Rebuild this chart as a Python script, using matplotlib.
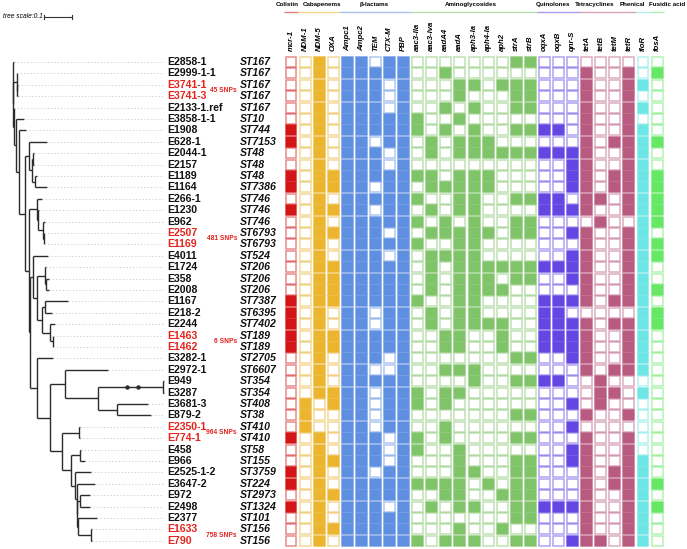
import matplotlib
matplotlib.use("Agg")
import matplotlib.pyplot as plt
from matplotlib.patches import Rectangle
from matplotlib.colors import to_rgba

plt.rcParams['font.family'] = ['Liberation Sans', 'DejaVu Sans']

# ---- data ---------------------------------------------------------------
samples = ["E2858-1", "E2999-1-1", "E3741-1", "E3741-3", "E2133-1.ref", "E3858-1-1",
           "E1908", "E628-1", "E2044-1", "E2157", "E1189", "E1164", "E266-1", "E1230",
           "E962", "E2507", "E1169", "E4011", "E1724", "E358", "E2008", "E1167",
           "E218-2", "E2244", "E1463", "E1462", "E3282-1", "E2972-1", "E949", "E3287",
           "E3681-3", "E879-2", "E2350-1", "E774-1", "E458", "E966", "E2525-1-2",
           "E3647-2", "E972", "E2498", "E2377", "E1633", "E790"]
st_types = ["ST167", "ST167", "ST167", "ST167", "ST167", "ST10", "ST744", "ST7153",
            "ST48", "ST48", "ST48", "ST7386", "ST746", "ST746", "ST746", "ST6793",
            "ST6793", "ST524", "ST206", "ST206", "ST206", "ST7387", "ST6395", "ST7402",
            "ST189", "ST189", "ST2705", "ST6607", "ST354", "ST354", "ST408", "ST38",
            "ST410", "ST410", "ST58", "ST155", "ST3759", "ST224", "ST2973", "ST1324",
            "ST101", "ST156", "ST156"]
snp_pairs = [("E3741-1", "E3741-3", "45 SNPs"), ("E2507", "E1169", "481 SNPs"),
             ("E1463", "E1462", "6 SNPs"), ("E2350-1", "E774-1", "964 SNPs"),
             ("E1633", "E790", "758 SNPs")]

genes = ["mcr-1", "NDM-1", "NDM-5", "OXA", "Ampc1", "Ampc2", "TEM", "CTX-M", "PBP",
         "aac3-IIa", "aac3-Iva", "aadA4", "aadA", "aph3-Ia", "aph4-Ia", "aph2", "strA",
         "strB", "oqxA", "oqxB", "qnr-S", "tetA", "tetB", "tetM", "tetR", "floR", "fosA"]
groups = ["Colistin", "Cabapenems", "β-lactams", "Aminoglycosides", "Quinolones",
          "Tetracyclines", "Phenical", "Fusidic acid"]
group_sizes = [1, 3, 5, 9, 3, 4, 1, 1]
group_colors = ["#d41515", "#ebb530", "#5f8fe0", "#80c46a", "#6446e2", "#b95b80",
                "#6de6e6", "#66e866"]

# 1 = gene present; groups separated by spaces
presence = [
    "0 010 11011 000000011 000 0000 0 0",
    "0 010 11111 001000000 000 1001 0 1",
    "0 010 11101 000110111 000 1001 1 0",
    "0 010 11101 000100011 000 1001 0 0",
    "0 010 11101 001010011 000 1001 1 0",
    "0 010 11111 100100000 000 1001 0 0",
    "1 010 11111 101010011 110 1001 1 0",
    "1 010 11011 010111000 000 1011 1 1",
    "0 010 11101 010111111 111 1001 1 0",
    "0 010 11101 000000000 001 1001 1 0",
    "1 011 11111 110111000 001 1011 1 1",
    "1 011 11011 011111000 001 1011 1 1",
    "0 010 11111 100110011 110 1101 1 1",
    "1 011 11011 010110000 111 1001 1 1",
    "0 010 11111 101010011 000 0100 1 1",
    "0 011 11101 011111011 001 1001 1 0",
    "0 010 11111 100110000 000 1001 1 1",
    "0 010 11101 011110000 001 1001 1 1",
    "0 011 11111 010111111 111 1001 1 0",
    "0 011 11111 010111011 001 1001 1 0",
    "0 011 11111 010111100 000 1001 1 1",
    "1 011 11111 100110000 111 1011 1 0",
    "1 010 11011 010110000 110 0000 1 1",
    "1 010 11011 010111100 111 1011 1 1",
    "1 011 11111 001100100 111 1001 1 0",
    "1 011 11111 001100100 111 1001 1 0",
    "0 010 11101 000000011 001 1001 1 0",
    "0 010 11001 001110000 000 1011 1 0",
    "0 010 11111 000010011 110 0100 0 0",
    "0 011 11011 101100000 000 0110 1 0",
    "0 101 11011 101000000 001 0100 0 0",
    "0 100 11011 000000011 000 1001 0 0",
    "0 100 11011 001000000 001 0000 0 0",
    "1 010 11101 101000011 000 1001 0 0",
    "0 010 11101 100100000 001 1001 0 0",
    "0 011 11101 000100011 001 1001 1 0",
    "1 010 11011 000110011 000 1011 1 0",
    "1 010 11111 111101011 000 1011 1 1",
    "0 011 11111 001100111 000 1001 1 0",
    "1 010 11101 010110011 111 1001 1 1",
    "0 010 11111 000000011 000 1001 1 0",
    "0 011 11111 000100100 000 1001 1 0",
    "0 010 11111 101110011 001 1101 1 0",
]

# tree (newick pieces, branch lengths in substitutions/site)
clade_a = "(E628-1:0.064,((E2044-1:0.0035,E2157:0.0035):0.0035,(E1189:0.006,E1164:0.044):0.011):0.011):0.014"
clade_b = "(E266-1:0.018,(E1230:0.0035,(E962:0.009,(E2507:0.001,E1169:0.001):0.0035):0.016):0.0055):0.0285"
clade_c = ("(E4011:0.0535,((E1724:0.0035,(E358:0.009,E2008:0.009):0.0055):0.0285,"
           "((E1167:0.082,E218-2:0.025):0.011,(E2244:0.018,(E1463:0.002,E1462:0.002):0.011):0.0285):0.018):0.014):0.011")
clade_d1 = ("(E2972-1:0.1535,((((E949:0.0035,E3287:0.0035):0.089):0.039):0.1035,"
            "(E3681-3:0.111,E879-2:0.121):0.068):0.118):0.0535")
clade_d2 = ("((E2350-1:0.0035,E774-1:0.0035):0.061,((E458:0.0035,E966:0.018):0.032,"
            "(E2525-1-2:0.057,(E3647-2:0.064,((E972:0.038,E2498:0.038):0.009,"
            "(E2377:0.068,(E1633:0.0035,E790:0.0035):0.0465):0.002):0.002):0.007):0.014):0.032):0.043")
clade_d = "(E3282-1:0.057,(" + clade_d1 + "," + clade_d2 + "):0.0465):0.025"
newick = ("(E2858-1:0.002,((E2999-1-1:0.002,(E3741-1:0.0015,E3741-3:0.0015):0.001):0.013,"
          "(E2133-1.ref:0.002,(E3858-1-1:0.030,(E1908:0.024,(" + clade_a + ",("
          + clade_b + ",(" + clade_c + "," + clade_d + "):0.0035):0.014):0.020):0.0135):0.006):0.002):0.001);")
red_samples = {a for a, b, _ in snp_pairs} | {b for a, b, _ in snp_pairs}


def parse_newick(s):
    pos = 0

    def node():
        nonlocal pos
        kids = []
        if s[pos] == '(':
            pos += 1
            kids.append(node())
            while s[pos] == ',':
                pos += 1
                kids.append(node())
            pos += 1
        start = pos
        while s[pos] not in ',():;':
            pos += 1
        name = s[start:pos]
        length = 0.0
        if s[pos] == ':':
            pos += 1
            start = pos
            while s[pos] not in ',();':
                pos += 1
            length = float(s[start:pos])
        return {'name': name, 'len': length, 'kids': kids}
    return node()


tree = parse_newick(newick)
row_of = {n: i for i, n in enumerate(samples)}


def place(nd, x0):
    nd['x'] = x0 + nd['len']
    if not nd['kids']:
        nd['y'] = row_of[nd['name']]
        return
    for k in nd['kids']:
        place(k, nd['x'])
    nd['y'] = (nd['kids'][0]['y'] + nd['kids'][-1]['y']) / 2


place(tree, 0.0)

# ---- figure -------------------------------------------------------------
W, H = 687.0, 549.0
row0, dy = 62.0, 11.4          # pixel y of first row, row pitch
col0, dx = 291.0, 14.08        # pixel x of first gene column, column pitch
px_per_unit = 280.0            # tree scale: 0.1 -> 28 px
root_px = 13.0

top_px = row0 - dy / 2
bot_px = row0 + dy * (len(samples) - 1) + dy / 2
bottom = 1 - bot_px / H
height = (bot_px - top_px) / H
ylim = (len(samples) - 0.5, -0.5)


def row_y(px):
    return (px - row0) / dy


fig = plt.figure(figsize=(W / 100, H / 100), dpi=100)
ax_tree = fig.add_axes([0, bottom, 1, height])
ax_tree.set_xlim(-root_px / px_per_unit, (W - root_px) / px_per_unit)
ax_tree.set_ylim(*ylim)
ax_tree.axis('off')

tree_kw = dict(color="#2b2b2b", lw=1.0, solid_capstyle='butt')
leaves = []


def draw(nd):
    kids = nd['kids']
    if not kids:
        leaves.append(nd)
        return
    for k in kids:
        ax_tree.plot([nd['x'], k['x']], [k['y'], k['y']], **tree_kw)
        draw(k)
    if len(kids) > 1:
        ax_tree.plot([nd['x'], nd['x']], [kids[0]['y'], kids[-1]['y']], **tree_kw)
    else:
        ax_tree.plot(nd['x'], nd['y'], 'o', ms=2.2, color="#2b2b2b")


draw(tree)

dot_end = (163 - root_px) / px_per_unit
for lf in leaves:
    if lf['x'] < dot_end:
        ax_tree.plot([lf['x'], dot_end], [lf['y'], lf['y']], color="#c8c8c8",
                     lw=0.6, ls=(0, (1.5, 2.5)))

# scale bar
sb_y = row_y(17)
sb_x0 = (44 - root_px) / px_per_unit
ax_tree.plot([sb_x0, sb_x0 + 0.1], [sb_y, sb_y], color="#333", lw=0.8, clip_on=False)
for xx in (sb_x0, sb_x0 + 0.1):
    ax_tree.plot([xx, xx], [sb_y - 0.15, sb_y + 0.15], color="#333", lw=0.8, clip_on=False)
ax_tree.text(sb_x0 - 0.004, sb_y, "tree scale:0.1", fontsize=4.8, style='italic',
             ha='right', va='center', clip_on=False)

# labels
tr = ax_tree.get_yaxis_transform()
for i, (name, st) in enumerate(zip(samples, st_types)):
    col = "#e5231d" if name in red_samples else "#111111"
    ax_tree.text(167 / W, i, name, transform=tr, fontsize=7.6, fontweight='bold',
                 color=col, ha='left', va='center')
    ax_tree.text(240 / W, i, st, transform=tr, fontsize=7.6, fontweight='bold',
                 style='italic', color="#111111", ha='left', va='center')
for a, b, lab in snp_pairs:
    ax_tree.text(237 / W, (row_of[a] + row_of[b]) / 2, lab, transform=tr, fontsize=4.8,
                 fontweight='bold', color="#e5231d", ha='right', va='center')

# ---- heatmap ------------------------------------------------------------
ax_hm = fig.add_axes([(col0 - dx / 2) / W, bottom, len(genes) * dx / W, height])
ax_hm.set_xlim(-0.5, len(genes) - 0.5)
ax_hm.set_ylim(*ylim)
ax_hm.axis('off')

gene_color = []
for g, n in enumerate(group_sizes):
    gene_color += [group_colors[g]] * n

cw, ch = 0.78, 0.88
for i, row in enumerate(presence):
    bits = row.replace(" ", "")
    for j, b in enumerate(bits):
        c = gene_color[j]
        if b == "1":
            fc, ec = c, to_rgba(c, 0.85)
        else:
            fc, ec = "white", to_rgba(c, 0.5)
        ax_hm.add_patch(Rectangle((j - cw / 2, i - ch / 2), cw, ch, facecolor=fc,
                                  edgecolor=ec, lw=1.1))

for j, g in enumerate(genes):
    ax_hm.text(j, row_y(51), g, rotation=90, ha='center', va='bottom', fontsize=5.6,
               style='italic', fontweight='bold', clip_on=False)

# group titles: (x position in columns, alignment)
group_label_pos = [(-0.3, 'center'), (2.2, 'center'), (5.9, 'center'), (12.8, 'center'),
                   (18.6, 'center'), (21.6, 'center'), (24.25, 'center'), (28.0, 'right')]
start = 0
for g, n in enumerate(group_sizes):
    ax_hm.plot([start - 0.5, start + n - 0.5], [row_y(12)] * 2,
               color=to_rgba(group_colors[g], 0.55), lw=1.0, clip_on=False,
               solid_capstyle='butt')
    gx, ha = group_label_pos[g]
    ax_hm.text(gx, row_y(4.5), groups[g], ha=ha, va='center',
               fontsize=4.5, fontweight='bold', clip_on=False)
    start += n

fig.savefig("out.png", dpi=100)
